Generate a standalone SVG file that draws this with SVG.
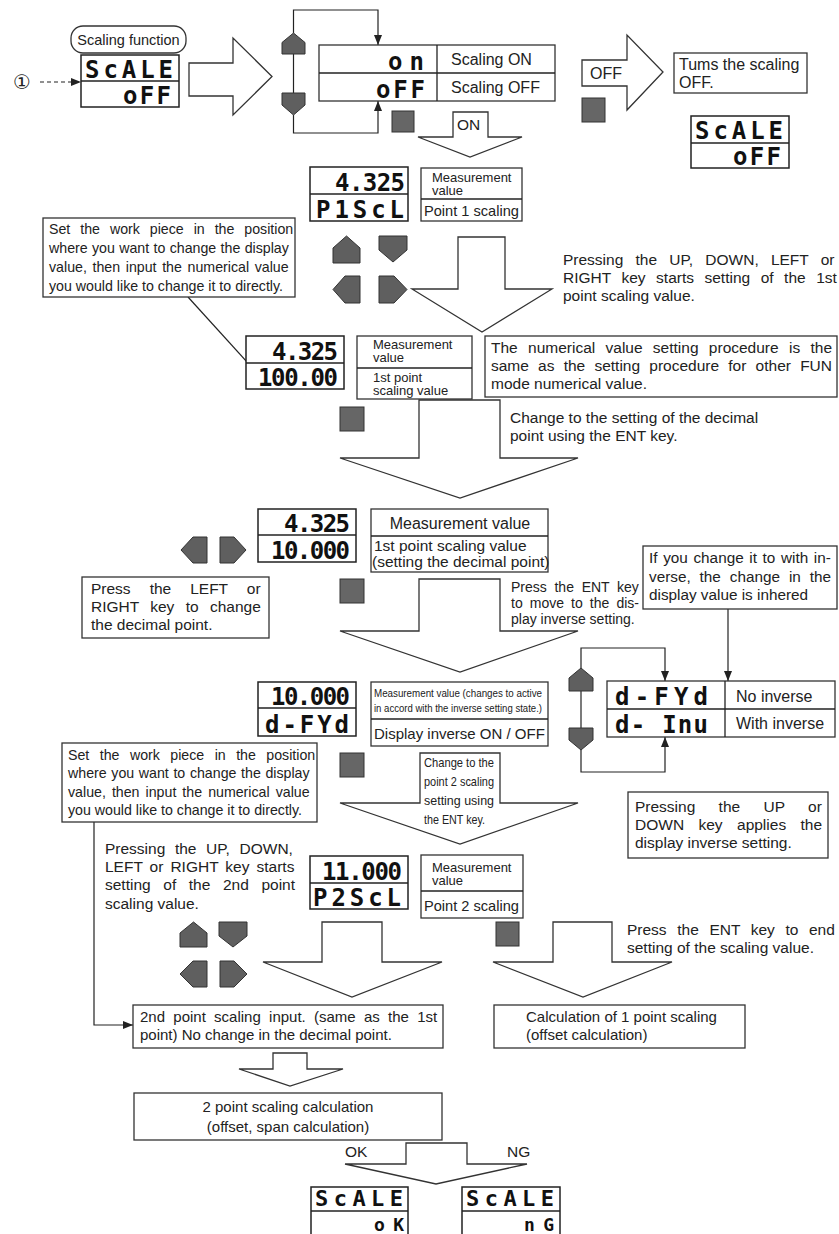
<svg xmlns="http://www.w3.org/2000/svg" width="839" height="1234" viewBox="0 0 839 1234">
<style>
.bg{fill:#fff}
.box{fill:#fff;stroke:#333;stroke-width:1.3}
.disp{fill:#fff;stroke:#222;stroke-width:1.5}
.dv{stroke:#222;stroke-width:1.3}
.key{fill:#5f5f5f;stroke:#333;stroke-width:1}
.ent{fill:#666;stroke:#333;stroke-width:1}
.big{fill:#fff;stroke:#333;stroke-width:1.3;stroke-linejoin:miter}
.ln{fill:none;stroke:#222;stroke-width:1.2}
.t{font-family:"Liberation Sans",Arial,sans-serif;font-size:15.5px;fill:#222}
.s14{font-size:14.2px}
.s13{font-size:13px}
.s16{font-size:16px}
.seg{font-family:"DejaVu Sans Mono",monospace;font-weight:bold;font-size:24px;fill:#111}
</style>
<defs>
<marker id="ah" markerWidth="10" markerHeight="8" refX="10" refY="4" orient="auto" markerUnits="userSpaceOnUse">
<path d="M0,0 L10,4 L0,8 z" fill="#222"/>
</marker>
</defs>
<rect class="bg" x="0" y="0" width="839" height="1234"/>

<g id="connectors">
<line class="ln" x1="40" y1="82" x2="81" y2="82" stroke-dasharray="4 3" marker-end="url(#ah)"/>
<polyline class="ln" points="293.5,33 293.5,10 378,10 378,45" marker-end="url(#ah)"/>
<polyline class="ln" points="293.5,115 293.5,133 378,133 378,101" marker-end="url(#ah)"/>
<line class="ln" x1="293.5" y1="54" x2="293.5" y2="93"/>
<line class="ln" x1="188" y1="297" x2="257" y2="373" marker-end="url(#ah)"/>
<line class="ln" x1="728" y1="609" x2="728" y2="681" marker-end="url(#ah)"/>
<polyline class="ln" points="581,668 581,648 665,648 665,681" marker-end="url(#ah)"/>
<polyline class="ln" points="581,750 581,772 665,772 665,737" marker-end="url(#ah)"/>
<line class="ln" x1="581" y1="691" x2="581" y2="728"/>
<polyline class="ln" points="94,822 94,1025 133,1025" marker-end="url(#ah)"/>
<g id="flow-arrows">
<polygon class="big" points="189,63 233,63 233,38 272,76.5 233,115 233,96 189,96"/>
<polygon class="big" points="582,60 627,60 627,35 663,72 627,110 627,86 582,86"/>
<text class="t s16" x="590" y="79">OFF</text>
<polygon class="big" points="453,112 488,112 488,137 522,137 470,157 418,137 453,137"/>
<text class="t" x="457" y="130">ON</text>
<polygon class="big" points="458,237 505,237 505,289 552,289 482,332 412,289 458,289"/>
<polygon class="big" points="419,400 500,400 500,458 578,458 460,498 340,458 419,458"/>
<polygon class="big" points="419,579 500,579 500,631 578,631 460,672 340,631 419,631"/>
<polygon class="big" points="420,753 500,753 500,803 578,803 460,844 340,803 420,803"/>
<text class="t s13" x="424" y="767" textLength="70" lengthAdjust="spacingAndGlyphs">Change to the</text>
<text class="t s13" x="424" y="786" textLength="70" lengthAdjust="spacingAndGlyphs">point 2 scaling</text>
<text class="t s13" x="424" y="805" textLength="70" lengthAdjust="spacingAndGlyphs">setting  using</text>
<text class="t s13" x="424" y="824" textLength="61" lengthAdjust="spacingAndGlyphs">the ENT key.</text>
<polygon class="big" points="322,922 382,922 382,962 442,962 352,997 263,962 322,962"/>
<polygon class="big" points="553,922 612,922 612,962 672,962 583,997 493,962 553,962"/>
<polygon class="big" points="273,1053 307,1053 307,1069 343,1069 290,1086 239,1069 273,1069"/>
<polygon class="big" points="406,1143 467,1143 467,1164 527,1164 436,1184 345,1164 406,1164"/>
<text class="t" x="345" y="1157">OK</text>
<text class="t" x="507" y="1157">NG</text>
</g>
</g>

<g id="start-mark"><text x="13" y="89" style="font-family:'DejaVu Sans',sans-serif;font-size:20px;fill:#222">①</text></g>

<g id="scale-off-start">
<rect class="box" x="71" y="26" width="115" height="27" rx="12"/>
<text class="t" x="128.5" y="45" style="font-size:14.5px" text-anchor="middle">Scaling function</text>
<rect class="disp" x="81" y="55" width="98" height="52"/>
<line class="dv" x1="81" y1="81" x2="179" y2="81"/>
<text class="seg" x="85" y="78" textLength="88">ScALE</text>
<text class="seg" x="123" y="104" textLength="48">oFF</text>
</g>

<g id="keys-top">
<polygon class="key" points="282,54 282,42.5 293.5,33 305,42.5 305,54"/>
<polygon class="key" points="282,93 305,93 305,105 293.5,115 282,105"/>
</g>

<g id="on-off-table">
<rect class="box" x="319" y="45" width="236" height="56"/>
<line class="dv" x1="319" y1="73" x2="555" y2="73"/>
<line class="dv" x1="437" y1="45" x2="437" y2="101"/>
<text class="seg" x="388" y="70" textLength="36">on</text>
<text class="seg" x="376" y="98" textLength="49">oFF</text>
<text class="t s16" x="451" y="65">Scaling ON</text>
<text class="t s16" x="451" y="93">Scaling OFF</text>
</g>

<g id="ent-keys">
<rect class="ent" x="392" y="111" width="22" height="21"/>
<rect class="ent" x="582" y="98" width="23" height="24"/>
<rect class="ent" x="340" y="407" width="24" height="24"/>
<rect class="ent" x="340" y="579" width="24" height="24"/>
<rect class="ent" x="340" y="753" width="24" height="24"/>
<rect class="ent" x="496" y="922" width="23" height="24"/>
</g>

<g id="turns-off">
<rect class="box" x="674" y="53" width="133" height="40"/>
<text class="t s16" x="679" y="70">Tums the scaling</text>
<text class="t s16" x="679" y="88">OFF.</text>
</g>

<g id="scale-off-end">
<rect class="disp" x="691" y="116" width="98" height="52"/>
<line class="dv" x1="691" y1="143" x2="789" y2="143"/>
<text class="seg" x="695" y="139" textLength="88">ScALE</text>
<text class="seg" x="733" y="165" textLength="48">oFF</text>
</g>

<g id="p1-display">
<rect class="disp" x="310" y="167" width="98" height="54"/>
<line class="dv" x1="310" y1="194" x2="408" y2="194"/>
<text class="seg" x="335" y="191" textLength="70">4.325</text>
<text class="seg" x="316" y="218" textLength="88">P1ScL</text>
</g>
<g id="p1-label">
<rect class="box" x="421" y="168" width="101" height="53"/>
<line class="dv" x1="421" y1="199" x2="522" y2="199"/>
<text class="t s13" x="432" y="182">Measurement</text>
<text class="t s13" x="432" y="195">value</text>
<text class="t" x="424" y="216" style="font-size:14.6px">Point 1 scaling</text>
</g>

<g id="keys-p1">
<polygon class="key" points="333,263 333,248 346.5,236 360,248 360,263"/>
<polygon class="key" points="379,236 407,236 407,250 393,262 379,250"/>
<polygon class="key" points="360,276 360,303 345,303 333,289.5 345,276"/>
<polygon class="key" points="379,276 379,303 394,303 407,289.5 394,276"/>
</g>

<g id="note-workpiece-1">
<rect class="box" x="43" y="218" width="252" height="79"/>
<text class="t s14" x="49" y="234" word-spacing="6.0">Set the work piece in the position</text>
<text class="t s14" x="49" y="253" word-spacing="0.4">where you want to change the display</text>
<text class="t s14" x="49" y="272" word-spacing="1.7">value, then input the numerical value</text>
<text class="t s14" x="49" y="291">you would like to change it to directly.</text>
</g>

<g id="note-press-1">
<text class="t" x="563" y="265" word-spacing="7.9">Pressing the UP, DOWN, LEFT or</text>
<text class="t" x="563" y="283" word-spacing="6.2">RIGHT key starts setting of the 1st</text>
<text class="t" x="563" y="301">point scaling value.</text>
</g>

<g id="p1-value-display">
<rect class="disp" x="246" y="336" width="98" height="53"/>
<line class="dv" x1="246" y1="363" x2="344" y2="363"/>
<text class="seg" x="272" y="360" textLength="66">4.325</text>
<text class="seg" x="258" y="386" textLength="80">100.00</text>
</g>
<g id="p1-value-label">
<rect class="box" x="357" y="336" width="115" height="63"/>
<line class="dv" x1="357" y1="368" x2="472" y2="368"/>
<text class="t s13" x="373" y="349">Measurement</text>
<text class="t s13" x="373" y="362">value</text>
<text class="t s13" x="373" y="382">1st point</text>
<text class="t s13" x="373" y="395">scaling value</text>
</g>

<g id="note-numerical">
<rect class="box" x="485" y="336" width="352" height="61"/>
<text class="t" x="491" y="353" word-spacing="6.0">The numerical value setting procedure is the</text>
<text class="t" x="491" y="371" word-spacing="4.9">same as the setting procedure for other FUN</text>
<text class="t" x="491" y="389">mode numerical value.</text>
</g>

<g id="note-decimal-ent">
<text class="t" x="510" y="423">Change to the setting of the decimal</text>
<text class="t" x="510" y="441">point using the ENT key.</text>
</g>

<g id="decimal-display">
<rect class="disp" x="258" y="509" width="98" height="53"/>
<line class="dv" x1="258" y1="535" x2="356" y2="535"/>
<text class="seg" x="284" y="532" textLength="66">4.325</text>
<text class="seg" x="271" y="559" textLength="79">10.000</text>
</g>
<g id="decimal-label">
<rect class="box" x="371" y="509" width="177" height="63"/>
<line class="dv" x1="371" y1="536" x2="548" y2="536"/>
<text class="t s16" x="460" y="529" text-anchor="middle">Measurement value</text>
<text class="t" x="374" y="551">1st point scaling value</text>
<text class="t" x="372" y="567">(setting the decimal point)</text>
</g>

<g id="keys-decimal">
<polygon class="key" points="207,537 207,563 193,563 181,550 193,537"/>
<polygon class="key" points="220,537 220,563 234,563 246,550 234,537"/>
</g>

<g id="note-left-right">
<rect class="box" x="82" y="577" width="187" height="61"/>
<text class="t" x="91" y="594" word-spacing="14.7">Press the LEFT or</text>
<text class="t" x="91" y="612" word-spacing="7">RIGHT key to change</text>
<text class="t" x="91" y="630">the decimal point.</text>
</g>

<g id="note-inverse-ent">
<text class="t" x="511" y="592" style="font-size:14px" word-spacing="3.8">Press the ENT key</text>
<text class="t" x="511" y="608" style="font-size:14px" word-spacing="3.2">to move to the dis-</text>
<text class="t" x="511" y="624" style="font-size:14px">play inverse setting.</text>
</g>

<g id="note-inhered">
<rect class="box" x="643" y="546" width="194" height="63"/>
<text class="t" x="649" y="563" style="font-size:15.3px" word-spacing="1.4">If you change it to with in-</text>
<text class="t" x="649" y="582" style="font-size:15.3px" word-spacing="4.7">verse, the change in the</text>
<text class="t" x="649" y="600" style="font-size:15.3px">display value is inhered</text>
</g>

<g id="inverse-table">
<rect class="box" x="607" y="681" width="228" height="56"/>
<line class="dv" x1="607" y1="709" x2="835" y2="709"/>
<line class="dv" x1="725" y1="681" x2="725" y2="737"/>
<text class="seg" x="615" y="705" textLength="93">d-FYd</text>
<text class="seg" x="615" y="733" textLength="93">d- Inu</text>
<text class="t s16" x="736" y="702">No inverse</text>
<text class="t s16" x="736" y="729">With inverse</text>
</g>

<g id="keys-inverse">
<polygon class="key" points="569,691 569,678 581,668 593,678 593,691"/>
<polygon class="key" points="569,728 593,728 593,740 581,750 569,740"/>
</g>

<g id="inverse-display">
<rect class="disp" x="258" y="682" width="98" height="54"/>
<line class="dv" x1="258" y1="708" x2="356" y2="708"/>
<text class="seg" x="271" y="705" textLength="79">10.000</text>
<text class="seg" x="265" y="733" textLength="84">d-FYd</text>
</g>
<g id="inverse-label">
<rect class="box" x="371" y="682" width="177" height="64"/>
<line class="dv" x1="371" y1="719" x2="548" y2="719"/>
<text class="t" x="374" y="697" style="font-size:11px" textLength="168" lengthAdjust="spacingAndGlyphs">Measurement value (changes to active</text>
<text class="t" x="374" y="712" style="font-size:11px" textLength="168" lengthAdjust="spacingAndGlyphs">in accord with the inverse setting state.)</text>
<text class="t" x="374" y="739" style="font-size:15px">Display inverse ON / OFF</text>
</g>

<g id="note-workpiece-2">
<rect class="box" x="62" y="743" width="255" height="79"/>
<text class="t s14" x="68" y="760" word-spacing="6.5">Set the work piece in the position</text>
<text class="t s14" x="68" y="778" word-spacing="0.7">where you want to change the display</text>
<text class="t s14" x="68" y="797" word-spacing="2.1">value, then input the numerical value</text>
<text class="t s14" x="68" y="815">you would like to change it to directly.</text>
</g>

<g id="note-up-down">
<rect class="box" x="628" y="792" width="200" height="66"/>
<text class="t" x="635" y="812" word-spacing="19">Pressing the UP or</text>
<text class="t" x="635" y="830" word-spacing="10.1">DOWN key applies the</text>
<text class="t" x="635" y="848">display inverse setting.</text>
</g>

<g id="note-press-2">
<text class="t" x="105" y="854" word-spacing="5.3">Pressing the UP, DOWN,</text>
<text class="t" x="105" y="872" word-spacing="2.7">LEFT or RIGHT key starts</text>
<text class="t" x="105" y="890" word-spacing="8.3">setting of the 2nd point</text>
<text class="t" x="105" y="909">scaling value.</text>
</g>

<g id="p2-display">
<rect class="disp" x="310" y="856" width="98" height="53"/>
<line class="dv" x1="310" y1="883" x2="408" y2="883"/>
<text class="seg" x="322" y="880" textLength="80">11.000</text>
<text class="seg" x="313" y="906" textLength="88">P2ScL</text>
</g>
<g id="p2-label">
<rect class="box" x="421" y="855" width="102" height="63"/>
<line class="dv" x1="421" y1="891" x2="523" y2="891"/>
<text class="t s13" x="432" y="872">Measurement</text>
<text class="t s13" x="432" y="885">value</text>
<text class="t" x="424" y="911" style="font-size:14.6px">Point 2 scaling</text>
</g>

<g id="note-end">
<text class="t" x="627" y="935" word-spacing="6.3">Press the ENT key to end</text>
<text class="t" x="627" y="953">setting of the scaling value.</text>
</g>

<g id="keys-p2">
<polygon class="key" points="180,947 180,933 193.5,922 207,933 207,947"/>
<polygon class="key" points="219,922 247,922 247,936 233,947 219,936"/>
<polygon class="key" points="207,961 207,987 193,987 180,974 193,961"/>
<polygon class="key" points="220,961 220,987 234,987 247,974 234,961"/>
</g>

<g id="p2-input">
<rect class="box" x="133" y="1005" width="310" height="43"/>
<text class="t" x="140" y="1022" style="font-size:15px" word-spacing="4.1">2nd point scaling input. (same as the 1st</text>
<text class="t" x="140" y="1040" style="font-size:15px">point) No change in the decimal point.</text>
</g>

<g id="calc-1pt">
<rect class="box" x="494" y="1005" width="251" height="43"/>
<text class="t" x="526" y="1022" style="font-size:15px">Calculation of 1 point scaling</text>
<text class="t" x="526" y="1040" style="font-size:15px">(offset calculation)</text>
</g>

<g id="calc-2pt">
<rect class="box" x="134" y="1093" width="308" height="47"/>
<text class="t" x="288" y="1112" style="font-size:15px" text-anchor="middle">2 point scaling calculation</text>
<text class="t" x="288" y="1132" style="font-size:15px" text-anchor="middle">(offset, span calculation)</text>
</g>

<g id="result-ok">
<rect class="disp" x="311" y="1187" width="97" height="55"/>
<line class="dv" x1="311" y1="1211" x2="408" y2="1211"/>
<text class="seg" x="315" y="1206" style="font-size:22px" textLength="88">ScALE</text>
<text class="seg" x="374" y="1231" style="font-size:18px" textLength="30">oK</text>
</g>
<g id="result-ng">
<rect class="disp" x="462" y="1187" width="98" height="55"/>
<line class="dv" x1="462" y1="1211" x2="560" y2="1211"/>
<text class="seg" x="466" y="1206" style="font-size:22px" textLength="88">ScALE</text>
<text class="seg" x="524" y="1231" style="font-size:18px" textLength="30">nG</text>
</g>
</svg>
